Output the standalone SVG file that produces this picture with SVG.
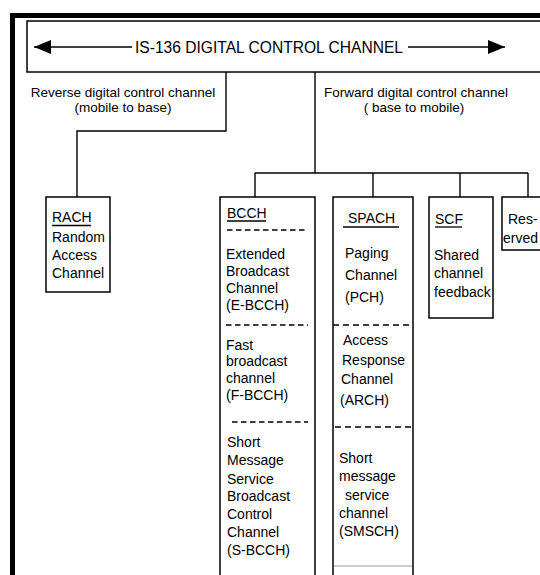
<svg xmlns="http://www.w3.org/2000/svg" width="540" height="575" viewBox="0 0 540 575">
<style>
text{font-family:"Liberation Sans",Arial,sans-serif;font-size:14px;fill:#000}
.lbl{font-size:13.5px}
.ln{stroke:#000;stroke-width:1.4;fill:none}
.box{stroke:#000;stroke-width:1.5;fill:#fff}
.open{stroke:#000;stroke-width:1.5;fill:none}
.ul{stroke:#000;stroke-width:1.3}
.dash{stroke:#000;stroke-width:1.4;stroke-dasharray:5.5 3.5}
.dash2{stroke:#000;stroke-width:1.4;stroke-dasharray:6 4}
.c{text-anchor:middle}
</style>
<defs>
<marker id="ah" markerUnits="userSpaceOnUse" markerWidth="18" markerHeight="14" refX="17" refY="7" orient="auto">
<path d="M0,0 L17,7 L0,14 z" fill="#000"/>
</marker>
</defs>
<rect x="0" y="0" width="540" height="575" fill="#fff"/>
<g id="frame">
<rect x="10" y="13" width="530" height="5" fill="#000"/>
<rect x="10" y="13" width="5" height="562" fill="#000"/>
</g>
<g id="title">
<path class="open" d="M545,21 H27 V72 H545"/>
<line class="ln" x1="132" y1="47" x2="34" y2="47" marker-end="url(#ah)"/>
<line class="ln" x1="408" y1="47" x2="505" y2="47" marker-end="url(#ah)"/>
<text x="135" y="53" textLength="268" lengthAdjust="spacingAndGlyphs" style="font-size:17px">IS-136 DIGITAL CONTROL CHANNEL</text>
</g>
<g id="reverse">
<text class="c lbl" x="123" y="97">Reverse digital control channel</text>
<text class="c lbl" x="123" y="112">(mobile to base)</text>
</g>
<g id="forward">
<text class="c lbl" x="416" y="97">Forward digital control channel</text>
<text class="c lbl" x="414" y="112">( base to mobile)</text>
</g>
<g id="connectors">
<polyline class="ln" points="226,72 226,131 77,131 77,197"/>
<line class="ln" x1="315" y1="72" x2="315" y2="173"/>
<line class="ln" x1="255" y1="173" x2="528" y2="173"/>
<line class="ln" x1="255" y1="173" x2="255" y2="197"/>
<line class="ln" x1="373" y1="173" x2="373" y2="197"/>
<line class="ln" x1="460" y1="173" x2="460" y2="197"/>
<line class="ln" x1="528" y1="173" x2="528" y2="197"/>
</g>
<g id="rach">
<rect class="box" x="46" y="197" width="64" height="95"/>
<text x="52" y="222">RACH</text>
<line class="ul" x1="52" y1="225.5" x2="91" y2="225.5"/>
<text x="52" y="242">Random</text>
<text x="52" y="260">Access</text>
<text x="52" y="278">Channel</text>
</g>
<g id="bcch">
<path class="open" d="M220,580 V197 H315 V580"/>
<text x="227" y="218">BCCH</text>
<line class="ul" x1="227" y1="221" x2="266" y2="221"/>
<line class="dash" x1="227" y1="230" x2="308" y2="230"/>
<text x="226" y="259">Extended</text>
<text x="226" y="276">Broadcast</text>
<text x="226" y="293">Channel</text>
<text x="226" y="310">(E-BCCH)</text>
<line class="dash" x1="226" y1="325" x2="308" y2="325"/>
<text x="226" y="350">Fast</text>
<text x="226" y="366">broadcast</text>
<text x="226" y="383">channel</text>
<text x="226" y="400">(F-BCCH)</text>
<line class="dash" x1="232" y1="422" x2="308" y2="422"/>
<text x="227" y="447">Short</text>
<text x="227" y="465">Message</text>
<text x="227" y="484">Service</text>
<text x="227" y="501">Broadcast</text>
<text x="227" y="519">Control</text>
<text x="227" y="537">Channel</text>
<text x="227" y="555">(S-BCCH)</text>
</g>
<g id="spach">
<path class="open" d="M333,580 V197 H413 V580"/>
<line x1="334" y1="566" x2="412" y2="566" stroke="#999" stroke-width="1"/>
<text x="348" y="223">SPACH</text>
<line class="ul" x1="343" y1="227" x2="399" y2="227"/>
<text x="345" y="258">Paging</text>
<text x="345" y="280">Channel</text>
<text x="345" y="302">(PCH)</text>
<line class="dash2" x1="333" y1="325" x2="413" y2="325"/>
<text x="343" y="345">Access</text>
<text x="342" y="365">Response</text>
<text x="341" y="384">Channel</text>
<text x="340" y="405">(ARCH)</text>
<line class="dash2" x1="335" y1="427" x2="412" y2="427"/>
<text x="339" y="463">Short</text>
<text x="339" y="481">message</text>
<text x="345" y="500">service</text>
<text x="339" y="518">channel</text>
<text x="339" y="536">(SMSCH)</text>
</g>
<g id="scf">
<rect class="box" x="429" y="197" width="64" height="121"/>
<text x="435" y="224">SCF</text>
<line class="ul" x1="435" y1="227" x2="462" y2="227"/>
<text x="434" y="260">Shared</text>
<text x="434" y="278">channel</text>
<text x="434" y="297">feedback</text>
</g>
<g id="reserved">
<path class="box" d="M545,250 H502 V197 H545"/>
<text x="508" y="224">Res-</text>
<text x="503" y="243">erved</text>
</g>
</svg>
